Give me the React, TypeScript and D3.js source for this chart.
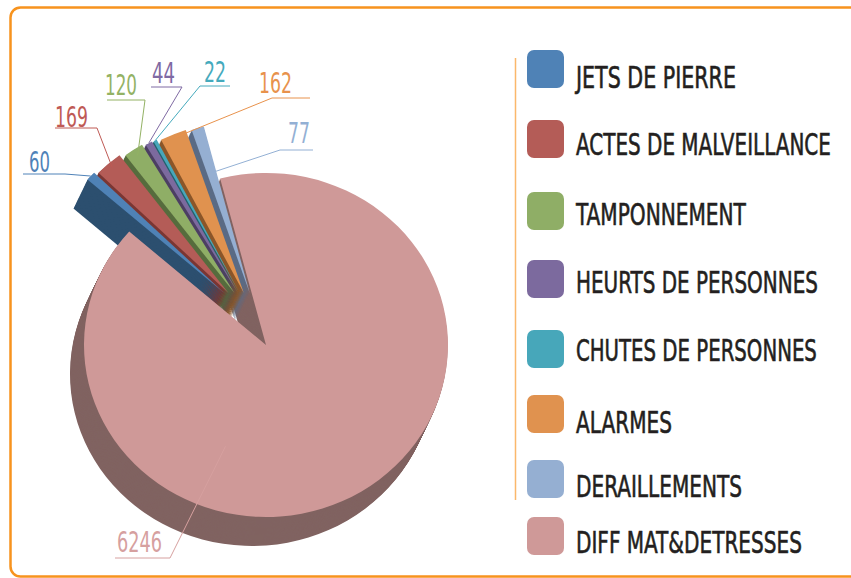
import React from 'react';
import * as d3 from 'd3';

// ---------- data ----------
const CATEGORIES = [
  'JETS DE PIERRE',
  'ACTES DE MALVEILLANCE',
  'TAMPONNEMENT',
  'HEURTS DE PERSONNES',
  'CHUTES DE PERSONNES',
  'ALARMES',
  'DERAILLEMENTS',
  'DIFF MAT&DETRESSES',
];
const VALUES = [60, 169, 120, 44, 22, 162, 77, 6246];
const TOP_COLORS = ['#4f82b6', '#b45c57', '#8fae66', '#7c6a9e', '#47a7ba', '#e0924f', '#95afd2', '#cf9998'];
const SIDE_COLORS = ['#2c4f6f', '#7a3633', '#566c3d', '#4c3f63', '#23616e', '#8b5629', '#5a6b85', '#806361'];
const LABEL_COLORS = ['#4f82b8', '#bf5a55', '#93b264', '#7f6aa3', '#45aabd', '#e8924c', '#93b0d4', '#d6a09f'];

// ---------- layout ----------
const W = 851;
const H = 578;
const CX = 266;
const CY = 345;
const RX = 182;
const RY = 172;
const DEPTH_X = -14;
const DEPTH_Y = 29;
const STEPS = 30;
const START = (-14.6 * Math.PI) / 180;
const EXPLODE_X = 57;
const EXPLODE_Y = 52;
const FONT = "'DejaVu Sans Condensed', 'Roboto Condensed', Roboto, 'DejaVu Sans', sans-serif";

// label annotation layout (per category index)
const LABEL_LAYOUT = [
  { tx: 29, ty: 172, w: 21, hx1: 23, hx2: 65, hy: 174, elbow: 'r', frac: 1.0 },
  { tx: 55, ty: 127, w: 33, hx1: 55, hx2: 97, hy: 128, elbow: 'r', frac: 0.97 },
  { tx: 105, ty: 95, w: 32, hx1: 107, hx2: 145, hy: 100, elbow: 'r', frac: 0.96 },
  { tx: 152, ty: 83, w: 23, hx1: 151, hx2: 182, hy: 87, elbow: 'r', frac: 1.0 },
  { tx: 204, ty: 82, w: 22, hx1: 200, hx2: 230, hy: 86, elbow: 'l', frac: 1.0 },
  { tx: 259, ty: 93, w: 33, hx1: 272, hx2: 310, hy: 98, elbow: 'l', frac: 0.98 },
  { tx: 288, ty: 143, w: 22, hx1: 280, hx2: 313, hy: 150, elbow: 'l', frac: 0.73 },
  { tx: 117, ty: 552, w: 45, hx1: 115, hx2: 170, hy: 558, elbow: 'r', frac: 0.63, angle: 200.7 },
];

const LEGEND_TOPS = [50, 120, 192, 260, 330, 395, 460, 517];
const LEGEND_BASE = [88, 155, 225, 293, 361, 433, 497, 553];
const LEGEND_W = [160, 255, 170, 242, 241, 96, 166, 226];

let measureCtx: CanvasRenderingContext2D | null = null;
function measure(text: string, font: string): number {
  if (typeof document === 'undefined') return text.length * 15;
  if (!measureCtx) measureCtx = document.createElement('canvas').getContext('2d');
  if (!measureCtx) return text.length * 15;
  measureCtx.font = font;
  return measureCtx.measureText(text).width || text.length * 15;
}

function FitText(props: {
  x: number;
  y: number;
  w: number;
  size: number;
  weight: number;
  fill: string;
  stroke?: number;
  children: string;
}) {
  const natural = measure(props.children, `${props.weight} ${props.size}px ${FONT}`);
  const sx = props.w / natural;
  return (
    <text
      transform={`translate(${props.x},${props.y}) scale(${sx},1)`}
      x={0}
      y={0}
      fill={props.fill}
      stroke={props.stroke ? props.fill : 'none'}
      strokeWidth={props.stroke || 0}
      fontFamily={FONT}
      fontSize={props.size}
      fontWeight={props.weight}
    >
      {props.children}
    </text>
  );
}

export default function App() {
  const order = [7, 0, 1, 2, 3, 4, 5, 6];
  const pie = d3
    .pie<number>()
    .sort(null)
    .value((i) => VALUES[i])
    .startAngle(START)
    .endAngle(START + 2 * Math.PI);
  const arcs = pie(order);
  const R0 = 100;
  const arcGen = d3.arc<any>().innerRadius(0).outerRadius(R0);

  const slices = arcs.map((a) => {
    const i = a.data as number;
    const mid = (a.startAngle + a.endAngle) / 2;
    const small = i !== 7;
    const x = CX + (small ? EXPLODE_X * Math.sin(mid) : 0);
    const y = CY + (small ? -EXPLODE_Y : 0);
    return { i, mid, x, y, d: arcGen({ startAngle: a.startAngle, endAngle: a.endAngle }) as string };
  });
  const byIndex: Record<number, any> = {};
  slices.forEach((s) => (byIndex[s.i] = s));

  const steps = d3.range(STEPS, 0, -1);
  const tf = (x: number, y: number) => `translate(${x},${y}) scale(${RX / R0},${RY / R0})`;

  const side = (s: any) => (
    <g key={'side' + s.i} fill={SIDE_COLORS[s.i]}>
      {steps.map((k) => (
        <path key={k} d={s.d} transform={tf(s.x + (DEPTH_X * k) / STEPS, s.y + (DEPTH_Y * k) / STEPS)} />
      ))}
    </g>
  );
  const top = (s: any) => <path key={'top' + s.i} d={s.d} fill={TOP_COLORS[s.i]} transform={tf(s.x, s.y)} />;

  const pink = byIndex[7];
  const smallOrder = [6, 5, 4, 3, 2, 1, 0];

  const leaders = LABEL_LAYOUT.map((L, i) => {
    const s = byIndex[i];
    const ang = L.angle !== undefined ? (L.angle * Math.PI) / 180 : s.mid;
    const ex = s.x + RX * L.frac * Math.sin(ang);
    const ey = s.y - RY * L.frac * Math.cos(ang);
    const elx = L.elbow === 'r' ? L.hx2 : L.hx1;
    const otherx = L.elbow === 'r' ? L.hx1 : L.hx2;
    const pts: [number, number][] = [
      [otherx, L.hy],
      [elx, L.hy],
      [ex, ey],
    ];
    return (
      <g key={'lab' + i}>
        <path d={d3.line()(pts) as string} fill="none" stroke={LABEL_COLORS[i]} strokeWidth={1} />
        <FitText x={L.tx} y={L.ty} w={L.w} size={29} weight={400} fill={LABEL_COLORS[i]}>
          {String(VALUES[i])}
        </FitText>
      </g>
    );
  });

  return (
    <svg
      width={W}
      height={H}
      viewBox={`0 0 ${W} ${H}`}
      style={{ position: 'absolute', left: 0, top: 0, background: '#ffffff' }}
    >
      <rect x={10.5} y={7.5} width={900} height={569} rx={10} fill="#ffffff" stroke="#f7931e" strokeWidth={2.5} />

      {side(pink)}
      {smallOrder.map((i) => (
        <g key={'s' + i}>
          {side(byIndex[i])}
          {top(byIndex[i])}
        </g>
      ))}
      {top(pink)}

      {leaders}

      <line x1={515.5} y1={58} x2={515.5} y2={500} stroke="#fbb86b" strokeWidth={1.5} />
      {CATEGORIES.map((c, i) => (
        <g key={'lg' + i}>
          <rect x={527} y={LEGEND_TOPS[i]} width={37} height={38} rx={7} fill={TOP_COLORS[i]} />
          <FitText x={576} y={LEGEND_BASE[i]} w={LEGEND_W[i]} size={30} weight={500} fill="#231f20" stroke={0.6}>
            {c}
          </FitText>
        </g>
      ))}
    </svg>
  );
}
